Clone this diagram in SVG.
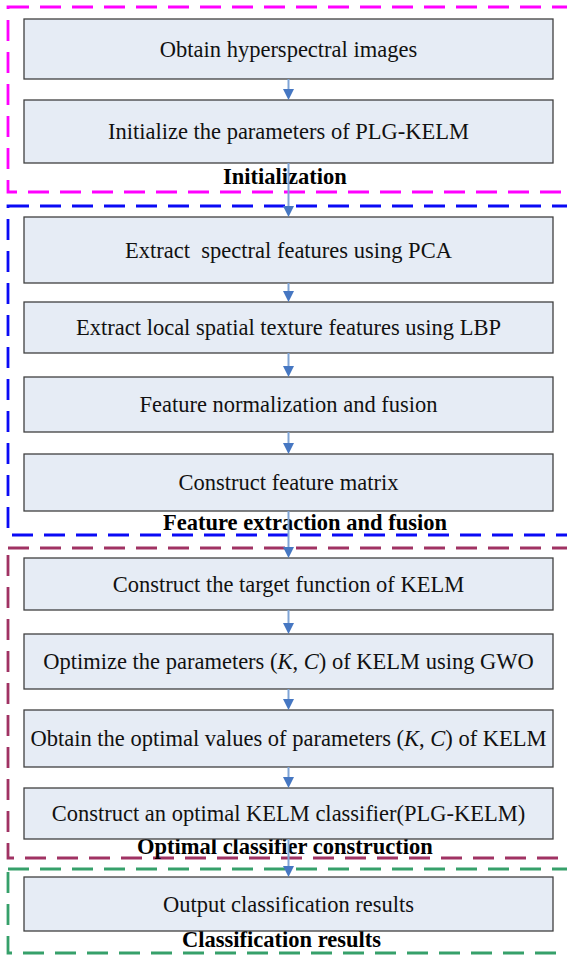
<svg xmlns="http://www.w3.org/2000/svg" width="567" height="956" viewBox="0 0 567 956">
<style>
.bg{fill:#ffffff}
.box{fill:#e6ecf5;stroke:#404040;stroke-width:1.3}
.t{font-family:"Liberation Serif","Times New Roman",serif;font-size:22.5px;fill:#111;text-anchor:middle;white-space:pre}
.lbl{font-family:"Liberation Serif","Times New Roman",serif;font-size:22.5px;font-weight:bold;fill:#000}
.grp{fill:none;stroke-width:2.8;stroke-dasharray:21 11}
.conn{stroke:#7fa4d6;stroke-width:2;fill:none}
.head{fill:#4677c2}
</style>
<rect class="bg" x="0" y="0" width="567" height="956"/>
<g id="groups">
<rect class="grp" x="8" y="7" width="600" height="185" stroke="#ff00ff"/>
<rect class="grp" x="8" y="206" width="600" height="329" stroke="#0a0af5"/>
<rect class="grp" x="8" y="548" width="600" height="310" stroke="#a03263"/>
<rect class="grp" x="8" y="869" width="600" height="84" stroke="#36a06a"/>
</g>
<g id="labels">
<text class="lbl" x="223" y="184">Initialization</text>
<text class="lbl" x="163" y="530">Feature extraction and fusion</text>
<text class="lbl" x="137" y="854">Optimal classifier construction</text>
<text class="lbl" x="182" y="947">Classification results</text>
</g>
<g id="n1"><rect class="box" x="24" y="19" width="529" height="60"/><text class="t" x="288.5" y="56.5">Obtain hyperspectral images</text></g>
<g id="n2"><rect class="box" x="24" y="100" width="529" height="63"/><text class="t" x="288.5" y="139">Initialize the parameters of PLG-KELM</text></g>
<g id="n3"><rect class="box" x="24" y="217" width="529" height="66"/><text class="t" x="288.5" y="257.5">Extract  spectral features using PCA</text></g>
<g id="n4"><rect class="box" x="24" y="302" width="529" height="51"/><text class="t" x="288.5" y="335">Extract local spatial texture features using LBP</text></g>
<g id="n5"><rect class="box" x="24" y="377" width="529" height="55"/><text class="t" x="288.5" y="412">Feature normalization and fusion</text></g>
<g id="n6"><rect class="box" x="24" y="454" width="529" height="57"/><text class="t" x="288.5" y="490">Construct feature matrix</text></g>
<g id="n7"><rect class="box" x="24" y="558" width="529" height="52"/><text class="t" x="288.5" y="591.5">Construct the target function of KELM</text></g>
<g id="n8"><rect class="box" x="24" y="634" width="529" height="55"/><text class="t" x="288.5" y="669">Optimize the parameters (<tspan font-style="italic">K</tspan>, <tspan font-style="italic">C</tspan>) of KELM using GWO</text></g>
<g id="n9"><rect class="box" x="24" y="710" width="529" height="57"/><text class="t" x="288.5" y="746">Obtain the optimal values of parameters (<tspan font-style="italic">K</tspan>, <tspan font-style="italic">C</tspan>) of KELM</text></g>
<g id="n10"><rect class="box" x="24" y="788" width="529" height="51"/><text class="t" x="288.5" y="821">Construct an optimal KELM classifier(PLG-KELM)</text></g>
<g id="n11"><rect class="box" x="24" y="877" width="529" height="54"/><text class="t" x="288.5" y="911.5">Output classification results</text></g>
<g id="connectors">
<line class="conn" x1="288.5" y1="79" x2="288.5" y2="90"/><path class="head" d="M283,89 L294,89 L288.5,100 Z"/>
<line class="conn" x1="288.5" y1="163" x2="288.5" y2="207"/><path class="head" d="M283,206 L294,206 L288.5,217 Z"/>
<line class="conn" x1="288.5" y1="283" x2="288.5" y2="292"/><path class="head" d="M283,291 L294,291 L288.5,302 Z"/>
<line class="conn" x1="288.5" y1="353" x2="288.5" y2="367"/><path class="head" d="M283,366 L294,366 L288.5,377 Z"/>
<line class="conn" x1="288.5" y1="432" x2="288.5" y2="444"/><path class="head" d="M283,443 L294,443 L288.5,454 Z"/>
<line class="conn" x1="288.5" y1="511" x2="288.5" y2="548"/><path class="head" d="M283,547 L294,547 L288.5,558 Z"/>
<line class="conn" x1="288.5" y1="610" x2="288.5" y2="624"/><path class="head" d="M283,623 L294,623 L288.5,634 Z"/>
<line class="conn" x1="288.5" y1="689" x2="288.5" y2="700"/><path class="head" d="M283,699 L294,699 L288.5,710 Z"/>
<line class="conn" x1="288.5" y1="767" x2="288.5" y2="778"/><path class="head" d="M283,777 L294,777 L288.5,788 Z"/>
<line class="conn" x1="288.5" y1="839" x2="288.5" y2="867"/><path class="head" d="M283,866 L294,866 L288.5,877 Z"/>
</g>
</svg>
